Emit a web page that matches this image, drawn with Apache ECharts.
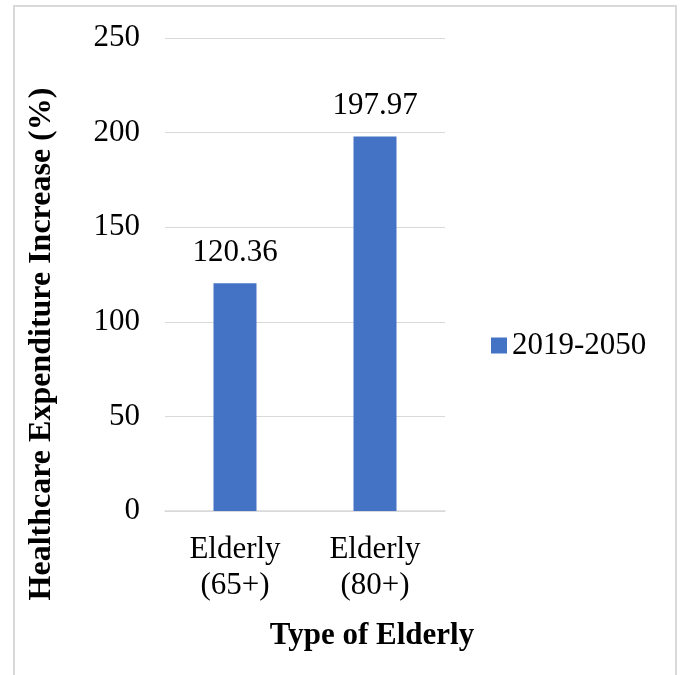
<!DOCTYPE html>
<html>
<head>
<meta charset="utf-8">
<script src="https://cdn.jsdelivr.net/npm/echarts@6/dist/echarts.min.js"></script>
<style>
  html, body { margin: 0; padding: 0; background: #fff; }
  #main { width: 680px; height: 675px; }
</style>
</head>
<body>
<div id="main"></div>
<script>
// data
const categories = ['Elderly\n(65+)', 'Elderly\n(80+)'];
const seriesName = '2019-2050';
const values = [120.36, 197.97];
const yTicks = [0, 50, 100, 150, 200, 250];

const font = '"Liberation Serif", "Times New Roman", serif';
const chart = echarts.init(document.getElementById('main'));

const option = {
  backgroundColor: '#fff',
  animation: false,
  textStyle: { fontFamily: font, color: '#000' },
  graphic: [
    {
      type: 'rect',
      shape: { x: 14, y: 6, width: 662, height: 700 },
      style: { fill: 'none', stroke: '#d9d9d9', lineWidth: 2 },
      silent: true,
      z: -1
    },
    {
      type: 'text',
      x: 42, y: 344,
      rotation: Math.PI / 2,
      style: {
        text: 'Healthcare Expenditure Increase (%)',
        font: 'bold 32px ' + font,
        fill: '#000',
        align: 'center',
        verticalAlign: 'middle'
      }
    },
    {
      type: 'text',
      x: 372, y: 636,
      style: {
        text: 'Type of Elderly',
        font: 'bold 31px ' + font,
        fill: '#000',
        align: 'center',
        verticalAlign: 'middle'
      }
    }
  ],
  legend: {
    left: 486, top: 325,
    itemWidth: 16, itemHeight: 16,
    itemGap: 6,
    textStyle: { fontFamily: font, fontSize: 31, color: '#000' },
    data: [{ name: seriesName, icon: 'rect' }]
  },
  grid: { left: 165, right: 235, top: 38, bottom: 164 },
  xAxis: {
    type: 'category',
    data: categories,
    axisLine: { lineStyle: { color: '#d9d9d9', width: 1.5 } },
    axisTick: { show: false },
    axisLabel: {
      fontFamily: font, fontSize: 31, color: '#000',
      lineHeight: 36, margin: 21
    }
  },
  yAxis: {
    type: 'value',
    min: yTicks[0],
    max: yTicks[yTicks.length - 1],
    interval: 50,
    axisLine: { show: false },
    axisTick: { show: false },
    splitLine: { lineStyle: { color: '#d9d9d9', width: 1 } },
    axisLabel: { fontFamily: font, fontSize: 31, color: '#000', margin: 25 }
  },
  series: [{
    name: seriesName,
    type: 'bar',
    data: values,
    barWidth: 43,
    itemStyle: { color: '#4472c4' },
    label: {
      show: true,
      position: 'top',
      distance: 15,
      fontFamily: font,
      fontSize: 31,
      color: '#000',
      formatter: p => p.value.toFixed(2)
    }
  }]
};

chart.setOption(option);
</script>
</body>
</html>
